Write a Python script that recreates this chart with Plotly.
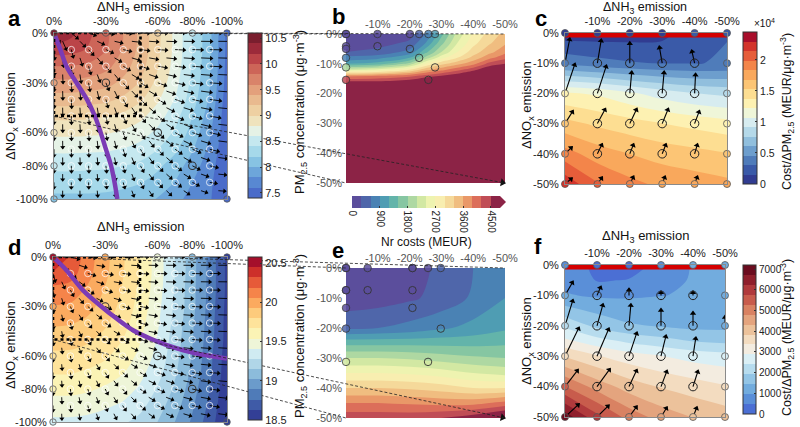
import numpy as np
import plotly.graph_objects as go

W, H = 800, 427
FONT = "Liberation Sans, Arial, sans-serif"

# ======================= DATA =======================
# full-range emission reduction grids (panels a, d), in % reduction
nh3_full = [0, 10, 20, 30, 40, 50, 60, 70, 80, 90, 100]
nox_full = [0, 10, 20, 30, 40, 50, 60, 70, 80, 90, 100]
full_tickvals = [0, 30, 60, 80, 100]
full_ticktext = ["0%", "-30%", "-60%", "-80%", "-100%"]

# PM2.5 concentration (ug/m3), rows = NOx reduction, cols = NH3 reduction
pm_a = [
    [10.45, 10.25, 10.05, 9.85, 9.60, 9.35, 9.05, 8.75, 8.40, 8.05, 7.55],
    [10.10, 10.08, 9.98, 9.81, 9.58, 9.34, 9.04, 8.75, 8.40, 8.05, 7.55],
    [9.80, 9.79, 9.75, 9.66, 9.49, 9.28, 9.01, 8.72, 8.38, 8.03, 7.54],
    [9.55, 9.55, 9.52, 9.47, 9.35, 9.18, 8.94, 8.67, 8.34, 8.01, 7.52],
    [9.30, 9.30, 9.28, 9.25, 9.16, 9.03, 8.83, 8.59, 8.29, 7.97, 7.49],
    [9.05, 9.05, 9.04, 9.01, 8.95, 8.85, 8.69, 8.48, 8.20, 7.90, 7.46],
    [8.85, 8.85, 8.84, 8.82, 8.77, 8.69, 8.55, 8.37, 8.12, 7.83, 7.45],
    [8.65, 8.65, 8.64, 8.63, 8.59, 8.52, 8.40, 8.24, 8.02, 7.75, 7.44],
    [8.45, 8.45, 8.44, 8.43, 8.40, 8.35, 8.24, 8.10, 7.90, 7.68, 7.43],
    [8.30, 8.30, 8.30, 8.29, 8.26, 8.21, 8.12, 7.99, 7.80, 7.64, 7.42],
    [8.15, 8.15, 8.15, 8.14, 8.11, 8.07, 7.99, 7.87, 7.72, 7.62, 7.42],
]
pm_d = [
    [20.50, 20.30, 20.12, 19.97, 19.82, 19.66, 19.48, 19.28, 19.07, 18.85, 18.60],
    [20.30, 20.25, 20.10, 19.96, 19.81, 19.66, 19.48, 19.28, 19.07, 18.85, 18.60],
    [20.15, 20.13, 20.04, 19.92, 19.79, 19.64, 19.47, 19.27, 19.06, 18.85, 18.60],
    [20.05, 20.04, 19.97, 19.88, 19.76, 19.62, 19.45, 19.26, 19.06, 18.84, 18.59],
    [19.95, 19.94, 19.90, 19.82, 19.72, 19.59, 19.43, 19.24, 19.04, 18.83, 18.58],
    [19.86, 19.85, 19.82, 19.76, 19.67, 19.55, 19.40, 19.22, 19.03, 18.82, 18.58],
    [19.77, 19.77, 19.74, 19.69, 19.61, 19.51, 19.37, 19.20, 19.01, 18.80, 18.56],
    [19.68, 19.68, 19.65, 19.61, 19.55, 19.45, 19.33, 19.17, 18.99, 18.79, 18.55],
    [19.58, 19.58, 19.56, 19.52, 19.47, 19.39, 19.27, 19.13, 18.95, 18.76, 18.53],
    [19.48, 19.48, 19.46, 19.43, 19.39, 19.32, 19.21, 19.08, 18.91, 18.73, 18.51],
    [19.38, 19.38, 19.37, 19.34, 19.30, 19.24, 19.15, 19.02, 18.87, 18.69, 18.50],
]
# optimal pathways (purple lines)
path_a_nh3 = [0, 3.7, 7.2, 13, 19, 23.6, 27, 30, 33, 35, 36.6]
path_a_nox = [0, 10, 20, 30, 40, 50, 60, 70, 80, 90, 100]
path_d_nh3 = [0, 7.7, 17.3, 26.9, 36.5, 46, 55.8, 65.4, 75, 84.6, 100]
path_d_nox = [0, 8, 20.2, 29.2, 37.3, 44.4, 49.4, 53.4, 56.5, 58.9, 61.5]
highlight = [30, 60, 80]

# zoomed range (panels b, c, e, f)
zoom_tickvals = [0, 10, 20, 30, 40, 50]
zoom_ticktext = ["0%", "-10%", "-20%", "-30%", "-40%", "-50%"]

# Nr costs (MEUR) panel b
b_nh3 = [0, 10, 20, 25, 30, 35, 40, 45, 50]
b_nox = [0, 3, 6, 8, 10, 12, 14, 16, 18, 20, 30, 40, 50]
cost_b = [
    [0, 80, 200, 600, 1400, 2200, 2750, 3100, 3400],
    [150, 200, 350, 900, 1700, 2400, 2900, 3250, 3550],
    [300, 380, 700, 1400, 2100, 2700, 3150, 3500, 3800],
    [700, 800, 1200, 1900, 2600, 3000, 3400, 3800, 4100],
    [1200, 1350, 1900, 2700, 3200, 3500, 3800, 4300, 4500],
    [2300, 2500, 3000, 3500, 3800, 4100, 4400, 4800, 5000],
    [3800, 3900, 4100, 4300, 4500, 4700, 5000, 5400, 5600],
    [4550, 4550, 4700, 5000, 5400, 5600, 5800, 6000, 6000],
    [5500, 5600, 6000, 6000, 6000, 6000, 6000, 6000, 6000],
    [6000, 6000, 6000, 6000, 6000, 6000, 6000, 6000, 6000],
    [6000, 6000, 6000, 6000, 6000, 6000, 6000, 6000, 6000],
    [6000, 6000, 6000, 6000, 6000, 6000, 6000, 6000, 6000],
    [6000, 6000, 6000, 6000, 6000, 6000, 6000, 6000, 6000],
]
# Nr costs (MEUR) panel e
e_nh3 = [0, 10, 20, 30, 40, 50]
e_nox = [0, 10, 20, 25, 30, 35, 40, 45, 50]
cost_e = [
    [0, 100, 200, 350, 600, 800],
    [100, 150, 250, 400, 650, 900],
    [550, 600, 700, 850, 1000, 1150],
    [1400, 1400, 1400, 1400, 1400, 1450],
    [2100, 2100, 2050, 1950, 1850, 1800],
    [2700, 2700, 2650, 2550, 2400, 2300],
    [3300, 3300, 3250, 3150, 3000, 3000],
    [3900, 3900, 3850, 3800, 3800, 4000],
    [4400, 4400, 4400, 4500, 4700, 5000],
]
# scenario points in b and e
b_pts_nh3 = [0, 9.9, 20.1, 23.0, 28.0, 25.9]
b_pts_nox = [0, 4.1, 5.0, 8.0, 11.2, 15.4]
e_pts_nh3 = [0, 6.8, 20.9, 20.9, 29.8, 25.8]
e_pts_nox = [0, 7.4, 7.4, 13.3, 20.2, 31.3]

# cost per PM2.5 reduction (MEUR per ug/m3)
c_nh3 = [0, 10, 20, 30, 40, 50]
c_nox = [0, 10, 20, 30, 40, 50]
eff_c = [
    [600, 700, 800, 1000, 2600, 3000],
    [4200, 3600, 3200, 3000, 3000, 3200],
    [12500, 12000, 11000, 10000, 9200, 8800],
    [15800, 15000, 14400, 13800, 13300, 12800],
    [19000, 17600, 16800, 16200, 15800, 15400],
    [22500, 20000, 18800, 18000, 17600, 17200],
]
f_nox = [0, 5, 10, 20, 25, 30, 40, 50]
eff_f = [
    [900, 300, 300, 600, 1000, 1200],
    [800, 450, 500, 800, 1000, 1100],
    [1000, 900, 900, 950, 1000, 1100],
    [2300, 1800, 1500, 1400, 1300, 1300],
    [3000, 2600, 2300, 2100, 1900, 1800],
    [3800, 3400, 3100, 2900, 2700, 2600],
    [5300, 4600, 4100, 3800, 3600, 3400],
    [7000, 5900, 5100, 4600, 4300, 4100],
]
# arrow components (% reduction units) at rows NOx = 10..50, cols NH3 = 0..50
arrow_nox = [10, 20, 30, 40, 50]
c_du = [[1.5, 1.2, 0.0, -0.9, -0.9, 0], [3.1, 2.8, 0.6, 0.6, 0.3, 0],
        [2.5, 2.5, 2.2, 1.9, 1.5, 0], [2.2, 1.5, 1.2, 1.2, 0.9, 0],
        [2.2, 1.5, 1.2, 0.9, 0.9, 0]]
c_dv = [[-8.3, -7.9, -7.0, -5.6, -4.3, 0], [-9.9, -9.3, -7.3, -7.3, -6.6, 0],
        [-4.3, -5.0, -5.0, -5.0, -4.3, 0], [-2.3, -3.3, -3.3, -3.3, -3.3, 0],
        [-2.0, -2.3, -2.6, -2.6, -2.6, 0]]
f_du = [[2.5, 1.25, 0.0, 0.0, 0.0, 0], [2.5, 1.9, 0.6, 0.0, 0.0, 0.0],
        [4.4, 3.75, 2.5, 1.6, 0.9, 0], [4.1, 4.1, 2.5, 1.9, 1.6, 0],
        [4.4, 3.75, 2.5, 1.9, 1.25, 0]]
f_dv = [[-4.6, -3.0, -2.3, -1.3, -1.3, 0], [-8.6, -7.2, -7.2, -5.6, -4.6, -3.3],
        [-9.5, -9.2, -7.9, -6.9, -6.25, 0], [-5.6, -5.9, -5.6, -5.3, -5.3, 0],
        [-4.3, -3.9, -3.6, -3.3, -3.3, 0]]

# colour scale tick labels
cb_a_ticks = [7.5, 8, 8.5, 9, 9.5, 10, 10.5]
cb_d_ticks = [18.5, 19, 19.5, 20, 20.5]
cb_b_ticks = [0, 900, 1800, 2700, 3600, 4500]
cb_c_ticks = [0, 5000, 10000, 15000, 20000]
cb_c_text = ["0", "0.5", "1", "1.5", "2"]
cb_f_ticks = [0, 1000, 2000, 3000, 4000, 5000, 6000, 7000]

# ======================= STYLE =======================
pal_a = ['#4a6bc9', '#5888d2', '#6da6da', '#87c3e3', '#a6d9ea', '#c5e8ef', '#e5f2e6', '#efe3bd',
         '#eed0a2', '#e9ba8f', '#e3a07c', '#d9836a', '#cd6558', '#bb4448', '#9c2a3a', '#7a1e2e']
pal_d = ['#333f96', '#3f5ba7', '#4f7bb8', '#6b9bcb', '#8cbcdb', '#b0d6e8', '#d0ebf2', '#eef5d8',
         '#fbf3b5', '#fee39b', '#fdcb7c', '#fbaa5f', '#f5844a', '#e65a39', '#cd2f2a', '#a50f2b']
pal_nr = ['#5b4e9c', '#4f66aa', '#4a82b4', '#4f9db3', '#63b4aa', '#86c6a2', '#aed8a2', '#d2e8a3',
          '#eef3b0', '#f8eeb0', '#f5d99a', '#f0bd80', '#e99868', '#dc6e5a', '#c04d56', '#8c2346']
pal_c = ['#313c91', '#3a5aa8', '#4f7cba', '#6d9ecd', '#91bfdd', '#b5d9e9', '#d7ecf0', '#eff6d9',
         '#fdf1b2', '#fdde92', '#fcc575', '#f9a85c', '#f3854a', '#e65d3a', '#d3342b', '#a90e2b']
pal_f = ['#4b6fd4', '#5a8fd8', '#72acde', '#93c5e6', '#b7dcee', '#daeff5', '#f3ece0', '#f3dcc0',
         '#ecc29b', '#e4a47e', '#d98262', '#c85c4c', '#b03a3c', '#8f1f2c', '#6b0c1f']

# band definitions: (lowest boundary, band size)
band_a = (7.4, 0.2)
band_d = (18.5, 0.13)
band_nr = (0, 300)
band_c = (0, 1530)
band_f = (0, 480)

P = {
    'a': dict(x0=54, x1=227, y0=33, y1=199, xr=(0, 100), yr=(0, 100)),
    'b': dict(x0=346, x1=505, y0=34, y1=183, xr=(0, 50), yr=(0, 50)),
    'c': dict(x0=565, x1=727, y0=33, y1=184, xr=(0, 50), yr=(0, 50)),
    'd': dict(x0=53, x1=227, y0=257, y1=422, xr=(0, 100), yr=(0, 100)),
    'e': dict(x0=346, x1=505, y0=268, y1=418, xr=(0, 50), yr=(0, 50)),
    'f': dict(x0=565, x1=725, y0=265, y1=417, xr=(0, 50), yr=(0, 50)),
}
for k, p in enumerate('abcdef', 1):
    sfx = '' if k == 1 else str(k)
    P[p]['xa'] = 'x' + sfx
    P[p]['ya'] = 'y' + sfx
    P[p]['sfx'] = sfx
    g = P[p]
    g['sx'] = (g['x1'] - g['x0']) / (g['xr'][1] - g['xr'][0])
    g['sy'] = (g['y1'] - g['y0']) / (g['yr'][1] - g['yr'][0])


def to_px(p, xv, yv):
    g = P[p]
    return g['x0'] + (xv - g['xr'][0]) * g['sx'], g['y0'] + (yv - g['yr'][0]) * g['sy']


def centered_scale(pal):
    n = len(pal) - 1
    return [[k / n, c] for k, c in enumerate(pal)]


def stepped_scale(pal):
    n = len(pal)
    out = []
    for k, c in enumerate(pal):
        out.append([k / n, c])
        out.append([(k + 1) / n, c])
    return out


def bilinear(xs, ys, Z, xv, yv):
    Z = np.asarray(Z, float)
    col = np.array([np.interp(xv, xs, Z[i]) for i in range(len(ys))])
    return float(np.interp(yv, ys, col))


fig = go.Figure()


def add_contour(p, xs, ys, Z, pal, band):
    lo, size = band
    n_levels = len(pal) - 1
    fig.add_trace(go.Contour(
        x=xs, y=ys, z=Z, colorscale=centered_scale(pal), showscale=False,
        contours=dict(start=lo + size, end=lo + size * n_levels, size=size,
                      coloring='fill', showlines=False),
        line=dict(width=0), hoverinfo='skip',
        xaxis=P[p]['xa'], yaxis=P[p]['ya']))


def add_arrows(p, tails, vecs, width, head, color='black', clip=True):
    g = P[p]
    lx, ly, hx, hy, ang = [], [], [], [], []
    for (x, y), (u, v) in zip(tails, vecs):
        if abs(u) < 1e-9 and abs(v) < 1e-9:
            continue
        X1, Y1 = x + u, y + v
        lx += [x, X1, None]
        ly += [y, Y1, None]
        dxp, dyp = u * g['sx'], v * g['sy']
        L = np.hypot(dxp, dyp)
        back = min(1.5, L * 0.3)
        hx.append(X1 - dxp / L * back / g['sx'])
        hy.append(Y1 - dyp / L * back / g['sy'])
        ang.append(float(np.degrees(np.arctan2(dxp, -dyp))))
    fig.add_trace(go.Scatter(x=lx, y=ly, mode='lines', line=dict(color=color, width=width),
                             hoverinfo='skip', xaxis=g['xa'], yaxis=g['ya']))
    fig.add_trace(go.Scatter(x=hx, y=hy, mode='markers', cliponaxis=clip,
                             marker=dict(symbol='triangle-up', size=head, color=color, angle=ang,
                                         line=dict(width=0)),
                             hoverinfo='skip', xaxis=g['xa'], yaxis=g['ya']))


def gradient_arrows(p, xs, ys, Z, Lmax, power):
    g = P[p]
    Z = np.asarray(Z, float)
    gy, gx = np.gradient(Z, ys, xs)
    pts = []
    for i in range(len(ys) - 1):
        for j in range(len(xs) - 1):
            pts.append((xs[j], ys[i], gx[i, j], gy[i, j]))
            pts.append(((xs[j] + xs[j + 1]) / 2, (ys[i] + ys[i + 1]) / 2,
                        gx[i:i + 2, j:j + 2].mean(), gy[i:i + 2, j:j + 2].mean()))
    mags = [np.hypot(a, b) for _, _, a, b in pts]
    gmax = max(mags)
    tails, vecs = [], []
    for (x, y, a, b), m in zip(pts, mags):
        L = Lmax * (m / gmax) ** power
        ux, uy = -a / m, -b / m
        tails.append((x, y))
        vecs.append((ux * L / g['sx'], uy * L / g['sy']))
    add_arrows(p, tails, vecs, 0.9, 4.5)


def add_colorbar(pal, lo, hi, tickvals, ticktext, cb, fsize=11):
    fig.add_trace(go.Scatter(
        x=[-1000], y=[-1000], mode='markers', hoverinfo='skip',
        marker=dict(size=1, color=[lo], colorscale=stepped_scale(pal), cmin=lo, cmax=hi,
                    showscale=True,
                    colorbar=dict(tickmode='array', tickvals=tickvals, ticktext=ticktext,
                                  outlinewidth=1, outlinecolor='#333', xpad=0, ypad=0,
                                  ticks='inside', ticklen=2, tickcolor='#333',
                                  tickfont=dict(family=FONT, size=fsize, color='#222'), **cb)),
        xaxis='x', yaxis='y'))


def vcb(x0, x1, y0, y1):
    return dict(x=x0 / W, xanchor='left', thickness=x1 - x0, lenmode='fraction',
                len=(y1 - y0) / H, y=1 - y0 / H, yanchor='top')


# ---------- panels a and d ----------
for p, Z, pal, band, path_x, path_y in [('a', pm_a, pal_a, band_a, path_a_nh3, path_a_nox),
                                        ('d', pm_d, pal_d, band_d, path_d_nh3, path_d_nox)]:
    g = P[p]
    add_contour(p, nh3_full, nox_full, Z, pal, band)
    gradient_arrows(p, nh3_full, nox_full, Z, 13 if p == 'a' else 12, 0.6)
    ix, iy = [], []
    for yv in nox_full[1:-1]:
        for xv in nh3_full[1:-1]:
            if not (xv == yv and xv in highlight):
                ix.append(xv)
                iy.append(yv)
    fig.add_trace(go.Scatter(x=ix, y=iy, mode='markers', hoverinfo='skip',
                             marker=dict(symbol='circle-open', size=6.5, color='rgba(255,255,255,0.8)',
                                         line=dict(width=0.9)),
                             xaxis=g['xa'], yaxis=g['ya']))
    fig.add_trace(go.Scatter(x=highlight, y=highlight, mode='markers', hoverinfo='skip',
                             marker=dict(symbol='circle-open', size=7.5, color='#333',
                                         line=dict(width=1.1)),
                             xaxis=g['xa'], yaxis=g['ya']))
    fig.add_trace(go.Scatter(x=path_x, y=path_y, mode='lines',
                             line=dict(color='#7b3bb5', width=4.5, shape='spline'),
                             hoverinfo='skip', xaxis=g['xa'], yaxis=g['ya']))
    zx, zy = P['b']['xr'][1], P['b']['yr'][1]
    fig.add_trace(go.Scatter(x=[0, zx, zx, 0, 0], y=[0, 0, zy, zy, 0], mode='lines',
                             line=dict(color='black', width=2.6, dash='dot'), hoverinfo='skip',
                             cliponaxis=False, xaxis=g['xa'], yaxis=g['ya']))
    exs = full_tickvals + [0] * (len(full_tickvals) - 1) + [full_tickvals[-1]]
    eys = [0] * len(full_tickvals) + full_tickvals[1:] + [full_tickvals[-1]]
    vals = [bilinear(nh3_full, nox_full, Z, a, b) for a, b in zip(exs, eys)]
    lo, size = band
    fig.add_trace(go.Scatter(x=exs, y=eys, mode='markers', hoverinfo='skip', cliponaxis=False,
                             marker=dict(size=6.5, color=vals, colorscale=stepped_scale(pal), cmin=lo,
                                         cmax=lo + size * len(pal), line=dict(color='#555', width=0.8)),
                             xaxis=g['xa'], yaxis=g['ya']))

# ---------- panels b and e ----------
for p, xs, ys, Z, px_, py_ in [('b', b_nh3, b_nox, cost_b, b_pts_nh3, b_pts_nox),
                               ('e', e_nh3, e_nox, cost_e, e_pts_nh3, e_pts_nox)]:
    g = P[p]
    add_contour(p, xs, ys, Z, pal_nr, band_nr)
    ex = list(px_) + [0] * len(py_)
    ey = [0] * len(px_) + list(py_)
    vals = [bilinear(xs, ys, Z, a, b) for a, b in zip(ex, ey)]
    fig.add_trace(go.Scatter(x=ex, y=ey, mode='markers', hoverinfo='skip', cliponaxis=False,
                             marker=dict(size=7.5, color=vals, colorscale=stepped_scale(pal_nr), cmin=0,
                                         cmax=4800, opacity=0.85, line=dict(color='#333', width=0.9)),
                             xaxis=g['xa'], yaxis=g['ya']))
    fig.add_trace(go.Scatter(x=px_[1:], y=py_[1:], mode='markers', hoverinfo='skip',
                             marker=dict(symbol='circle-open', size=7.5, color='#333', line=dict(width=0.9)),
                             xaxis=g['xa'], yaxis=g['ya']))

# ---------- panels c and f ----------
for p, ys, Z, pal, band, du, dv in [('c', c_nox, eff_c, pal_c, band_c, c_du, c_dv),
                                    ('f', f_nox, eff_f, pal_f, band_f, f_du, f_dv)]:
    g = P[p]
    add_contour(p, c_nh3, ys, Z, pal, band)
    x0, x1 = c_nh3[0], c_nh3[-1]
    fig.add_trace(go.Scatter(x=[x0, x1, x1, x0, x0], y=[0, 0, 1.5, 1.5, 0], mode='lines', fill='toself',
                             fillcolor='#d40000', line=dict(width=0, color='#d40000'), hoverinfo='skip',
                             xaxis=g['xa'], yaxis=g['ya']))
    tails, vecs = [], []
    for i, yv in enumerate(arrow_nox):
        for j, xv in enumerate(c_nh3):
            tails.append((xv, yv))
            vecs.append((du[i][j], dv[i][j]))
    add_arrows(p, tails, vecs, 1.1, 5.5)
    ex, ey, ev, ix, iy = [], [], [], [], []
    for yv in c_nox:
        for xv in c_nh3:
            if yv in (c_nox[0], c_nox[-1]) or xv in (c_nh3[0], c_nh3[-1]):
                ex.append(xv)
                ey.append(yv)
                ev.append(bilinear(c_nh3, ys, Z, xv, yv))
            else:
                ix.append(xv)
                iy.append(yv)
    lo, size = band
    fig.add_trace(go.Scatter(x=ix, y=iy, mode='markers', hoverinfo='skip',
                             marker=dict(symbol='circle-open', size=8.5, color='#222', line=dict(width=1)),
                             xaxis=g['xa'], yaxis=g['ya']))
    fig.add_trace(go.Scatter(x=ex, y=ey, mode='markers', hoverinfo='skip', cliponaxis=False,
                             marker=dict(size=7, color=ev, colorscale=stepped_scale(pal), cmin=lo,
                                         cmax=lo + size * len(pal), line=dict(color='#555', width=0.8)),
                             xaxis=g['xa'], yaxis=g['ya']))

# ---------- colour bars ----------
add_colorbar(pal_a, band_a[0], band_a[0] + band_a[1] * len(pal_a), cb_a_ticks,
             [str(v) for v in cb_a_ticks], vcb(248, 262, 33, 198))
add_colorbar(pal_d, band_d[0], band_d[0] + band_d[1] * len(pal_d), cb_d_ticks,
             [str(v) for v in cb_d_ticks], vcb(248, 262, 257, 420))
add_colorbar(pal_c, band_c[0], band_c[0] + band_c[1] * len(pal_c), cb_c_ticks, cb_c_text,
             vcb(743, 757, 32, 184), 10.5)
add_colorbar(pal_f, band_f[0], band_f[0] + band_f[1] * len(pal_f), cb_f_ticks,
             [str(v) for v in cb_f_ticks], vcb(743, 756, 265, 414), 10)
add_colorbar(pal_nr, band_nr[0], band_nr[0] + band_nr[1] * len(pal_nr), cb_b_ticks,
             [str(v) for v in cb_b_ticks],
             dict(orientation='h', x=352 / W, xanchor='left', thickness=12, lenmode='fraction',
                  len=148 / W, y=1 - 196 / H, yanchor='top', tickangle=90), 10)
fig.data[-1].marker.colorbar.outlinewidth = 0

shapes = []
shapes.append(dict(type='path', xref='paper', yref='paper',
                   path=f"M {500 / W},{1 - 196 / H} L {506 / W},{1 - 202 / H} L {500 / W},{1 - 208 / H} Z",
                   fillcolor=pal_nr[-1], line=dict(width=0)))

annotations = []


def txt(x, y, s, size=13, angle=0, color='#111'):
    annotations.append(dict(x=x / W, y=1 - y / H, xref='paper', yref='paper', text=s, showarrow=False,
                            textangle=angle, xanchor='center', yanchor='middle',
                            font=dict(family=FONT, size=size, color=color)))


# connectors from the dotted zoom boxes to the zoomed panels
for src, tgt in [('a', 'b'), ('d', 'e')]:
    zx, zy = P[tgt]['xr'][1], P[tgt]['yr'][1]
    hx, hy, ang = [], [], []
    for xv, yv in [(0, 0), (zx, 0), (0, zy), (zx, zy)]:
        sx, sy = to_px(src, xv, yv)
        tx, ty = to_px(tgt, xv, yv)
        shapes.append(dict(type='line', xref='paper', yref='paper', x0=sx / W, y0=1 - sy / H,
                           x1=tx / W, y1=1 - ty / H, line=dict(color='#222', width=0.8, dash='3px,2px')))
        L = np.hypot(tx - sx, ty - sy)
        ux, uy = (tx - sx) / L, (ty - sy) / L
        hx.append(xv - ux * 2.5 / P[tgt]['sx'])
        hy.append(yv - uy * 2.5 / P[tgt]['sy'])
        ang.append(float(np.degrees(np.arctan2(ux, -uy))))
    fig.add_trace(go.Scatter(x=hx, y=hy, mode='markers', cliponaxis=False, hoverinfo='skip',
                             marker=dict(symbol='triangle-up', size=7, color='#111', angle=ang,
                                         line=dict(width=0)),
                             xaxis=P[tgt]['xa'], yaxis=P[tgt]['ya']))

# titles
for x, y, fs in [(140, 7.5, 13), (645, 8, 12.5), (140, 227, 13), (645, 237, 13)]:
    txt(x, y, "ΔNH<sub>3</sub> emission", fs)
for x, y in [(11, 116), (11, 345), (527, 105), (527, 341)]:
    txt(x, y, "ΔNO<sub>x</sub> emission", 13, -90)
for y in (112, 336):
    txt(300, y, "PM<sub>2.5</sub> concentration (μg·m<sup>-3</sup>)", 13, -90)
for y in (112, 338):
    txt(787, y, "Cost/ΔPM<sub>2.5</sub> (MEUR/μg·m<sup>-3</sup>)", 12.5, -90)
txt(764, 23, "×10<sup>4</sup>", 10)
txt(426, 242, "Nr costs (MEUR)", 12)
for s, x, y in [('a', 14, 18), ('b', 338, 16), ('c', 541, 18), ('d', 14, 247), ('e', 338, 250), ('f', 538, 246)]:
    txt(x, y, f"<b>{s}</b>", 22, 0, '#000')

# axes
layout_axes = {}
for p in 'abcdef':
    g = P[p]
    sfx = g['sfx']
    framed = p not in 'be'
    tc = '#555' if p in 'be' else '#222'
    if p in 'ad':
        xt, xtt, yt, ytt = full_tickvals, full_ticktext, full_tickvals, full_ticktext
    else:
        xt, xtt, yt, ytt = zoom_tickvals[1:], zoom_ticktext[1:], zoom_tickvals, zoom_ticktext
    common = dict(showgrid=False, zeroline=False, showline=framed, mirror=framed, linecolor='#8a8a8a',
                  linewidth=1, ticks='', tickfont=dict(family=FONT, size=11, color=tc), fixedrange=True,
                  tickmode='array', ticklabelstandoff=3, automargin=False, ticklabeloverflow='allow')
    layout_axes['xaxis' + sfx] = dict(domain=[g['x0'] / W, g['x1'] / W], range=list(g['xr']),
                                      anchor='y' + sfx, side='top', tickvals=xt, ticktext=xtt, **common)
    layout_axes['yaxis' + sfx] = dict(domain=[1 - g['y1'] / H, 1 - g['y0'] / H],
                                      range=[g['yr'][1], g['yr'][0]], anchor='x' + sfx,
                                      tickvals=yt, ticktext=ytt, **common)

fig.update_layout(width=W, height=H, margin=dict(l=0, r=0, t=0, b=0, autoexpand=False),
                  paper_bgcolor='white', plot_bgcolor='white', showlegend=False, font=dict(family=FONT),
                  hovermode=False, shapes=shapes, annotations=annotations, **layout_axes)
fig.write_html("out.html", config={'displayModeBar': False, 'staticPlot': True},
               post_script="document.body.style.margin='0px';document.body.style.overflow='hidden';")
